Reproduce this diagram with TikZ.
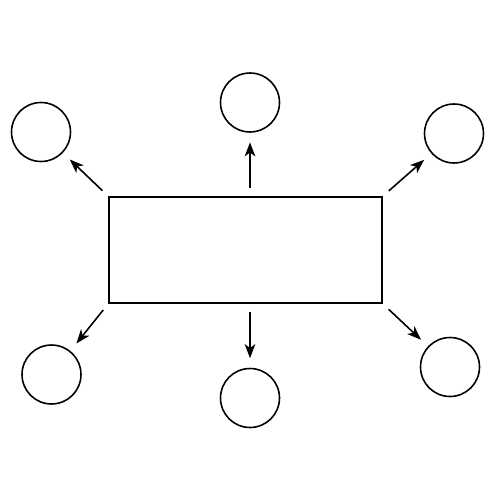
\documentclass[tikz,border=0pt]{standalone}
\usetikzlibrary{arrows.meta}
\begin{document}
\begin{tikzpicture}[x=0.02cm,y=-0.02cm,
  box/.style={draw,line width=0.9pt,minimum width=5.46cm,minimum height=2.12cm,inner sep=0pt},
  ball/.style={draw,circle,line width=0.9pt,minimum size=1.18cm,inner sep=0pt},
  link/.style={line width=0.9pt,-{Stealth[length=8pt,width=6pt,inset=2.2pt]},shorten <=0.16cm,shorten >=0.19cm}]
\useasboundingbox (0,0) rectangle (500,500);
\node[box] (r) at (245.5,250) {};
\node[ball] (tl) at (41,132) {};
\node[ball] (t) at (250,102.5) {};
\node[ball] (tr) at (454,133.5) {};
\node[ball] (bl) at (51.5,374.5) {};
\node[ball] (b) at (250,398) {};
\node[ball] (br) at (450,367) {};
\draw[link] (r.north west) -- (tl);
\draw[link] (t |- r.north) -- (t);
\draw[link] (r.north east) -- (tr);
\draw[link] (r.south west) -- (bl);
\draw[link] (b |- r.south) -- (b);
\draw[link] (r.south east) -- (br);
\end{tikzpicture}
\end{document}
